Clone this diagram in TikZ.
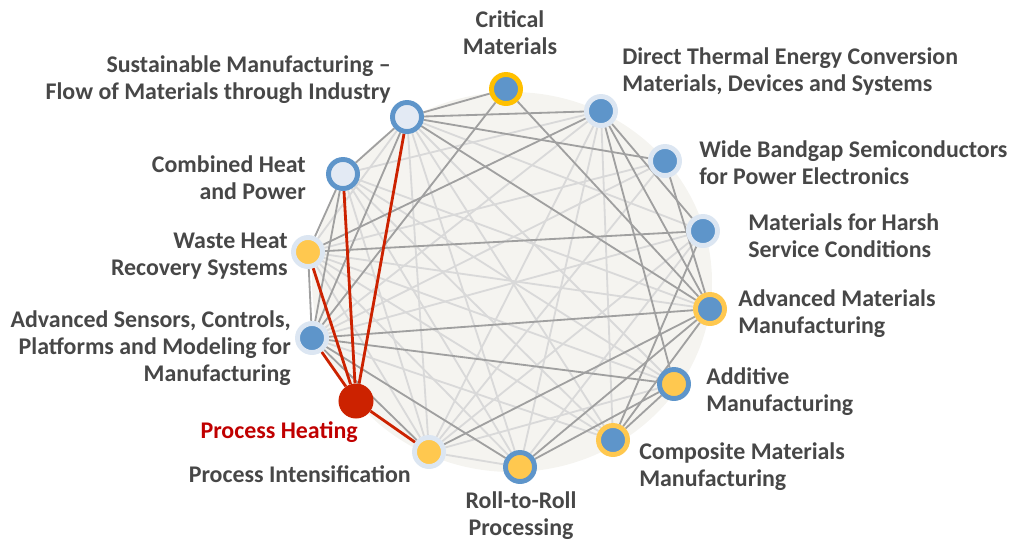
\documentclass[tikz,border=0pt]{standalone}
\usepackage{fontspec}
\setmainfont{Carlito}
\usetikzlibrary{backgrounds}
\definecolor{txt}{HTML}{474747}
\definecolor{redc}{HTML}{CC2200}
\definecolor{redt}{HTML}{C00000}
\definecolor{blu}{HTML}{5E95CA}
\definecolor{yel}{HTML}{FFC84F}
\definecolor{gold}{HTML}{FFC000}
\definecolor{pale}{HTML}{DCE6F2}
\definecolor{palefill}{HTML}{E3EAF4}
\definecolor{disk}{HTML}{F5F4F0}
\definecolor{dk}{HTML}{A0A0A0}
\definecolor{lt}{HTML}{D9D9D9}
\pgfdeclarelayer{bg}
\pgfdeclarelayer{edges}
\pgfsetlayers{bg,edges,main}
\tikzset{
  nd/.style={circle, minimum size=0.725cm, inner sep=0pt, line width=3.5pt},
  ringgold/.style={nd, fill=blu, draw=gold},
  ringyel/.style={nd, fill=blu, draw=yel},
  ringpaleb/.style={nd, fill=blu, draw=pale},
  ringpaley/.style={nd, fill=yel, draw=pale},
  ringbluey/.style={nd, fill=yel, draw=blu},
  ringbluep/.style={nd, fill=palefill, draw=blu},
  rednd/.style={circle, minimum size=0.875cm, inner sep=0pt, fill=redc},
  lbl/.style={inner sep=0pt, text=txt, font=\fontsize{17}{19.2}\selectfont\bfseries},
  dkedge/.style={draw=dk, line width=1.3pt},
  ltedge/.style={draw=lt, line width=1.3pt},
  rededge/.style={draw=redc, line width=2pt},
}
\begin{document}
\begin{tikzpicture}[x=0.025cm, y=-0.025cm]
\useasboundingbox (0,0) rectangle (1009,540);
\begin{pgfonlayer}{bg}
  \fill[disk] (512,282) ellipse [x radius=200, y radius=190];
\end{pgfonlayer}

% nodes
\node[ringgold]  (CM)  at (506,89)  {};
\node[ringpaleb] (DT)  at (601,111) {};
\node[ringpaleb] (WB)  at (665,161) {};
\node[ringpaleb] (HS)  at (703,231) {};
\node[ringyel]   (AM)  at (710,309) {};
\node[ringbluey] (AD)  at (674,384) {};
\node[ringyel]   (CP)  at (613,440) {};
\node[ringbluey] (RR)  at (520,467) {};
\node[ringpaley] (PI)  at (429,452) {};
\node[rednd]     (PH)  at (356,401) {};
\node[ringpaleb] (AS)  at (312,338) {};
\node[ringpaley] (WH)  at (308,252) {};
\node[ringbluep] (CHP) at (343,174) {};
\node[ringbluep] (SM)  at (407,117) {};

% labels
\node[lbl, align=center] (lCM) at (510,32.5) {Critical\\Materials};
\node[lbl, align=left, anchor=west] (lDT) at (622,71.5) {Direct Thermal Energy Conversion\\Materials, Devices and Systems};
\node[lbl, align=left, anchor=west] (lWB) at (699,162.5) {Wide Bandgap Semiconductors\\for Power Electronics};
\node[lbl, align=left, anchor=west] (lHS) at (748,236) {Materials for Harsh\\Service Conditions};
\node[lbl, align=left, anchor=west] (lAM) at (738,314) {Advanced Materials\\Manufacturing};
\node[lbl, align=left, anchor=west] (lAD) at (706,392) {Additive\\Manufacturing};
\node[lbl, align=left, anchor=west] (lCP) at (639,466.5) {Composite Materials\\Manufacturing};
\node[lbl, align=center] (lRR) at (521,516) {Roll-to-Roll\\Processing};
\node[lbl, anchor=east] (lPI) at (411,474.5) {Process Intensification};
\node[lbl, anchor=east, text=redt] (lPH) at (358,432.5) {Process Heating};
\node[lbl, align=right, anchor=east] (lAS) at (291,348.5) {Advanced Sensors, Controls,\\Platforms and Modeling for\\Manufacturing};
\node[lbl, align=right, anchor=east] (lWH) at (288,256) {Waste Heat\\Recovery Systems};
\node[lbl, align=right, anchor=east] (lCHP) at (306,177.5) {Combined Heat\\and Power};
\node[lbl, align=right, anchor=east] (lSM) at (391,80) {Sustainable Manufacturing –\\Flow of Materials through Industry};

\begin{pgfonlayer}{edges}
  % light edges
  \foreach \a/\b in {SM/PI, SM/RR, SM/CP, SM/AD, SM/HS, SM/WH,
                     DT/PI, DT/RR, DT/CP, DT/AS, DT/CHP,
                     WB/AS, WB/WH, WB/PI,
                     HS/AS, HS/PI, HS/RR,
                     AM/WH, AM/CHP,
                     AD/WH, AD/CHP, AD/PI,
                     CP/WH, CP/AS, CP/CHP,
                     RR/WH, RR/CHP, RR/PI,
                     PI/CHP, PI/WH}
    \draw[ltedge] (\a) -- (\b);
  % dark edges
  \foreach \a/\b in {SM/CM, SM/DT, SM/WB, SM/AM, SM/CHP, SM/AS,
                     CM/AM, CM/AS,
                     DT/WH, DT/HS, DT/AM, DT/AD,
                     WB/AM,
                     HS/WH, HS/CP,
                     AM/AS, AM/RR, AM/CP, AM/PI,
                     AD/AS, AD/RR, AD/CP,
                     CHP/WH, CHP/AS, WH/AS,
                     AS/PI, AS/RR}
    \draw[dkedge] (\a) -- (\b);
  % red edges
  \foreach \b in {WH, CHP, SM, AS, PI}
    \draw[rededge] (PH) -- (\b);
\end{pgfonlayer}
\end{tikzpicture}
\end{document}
